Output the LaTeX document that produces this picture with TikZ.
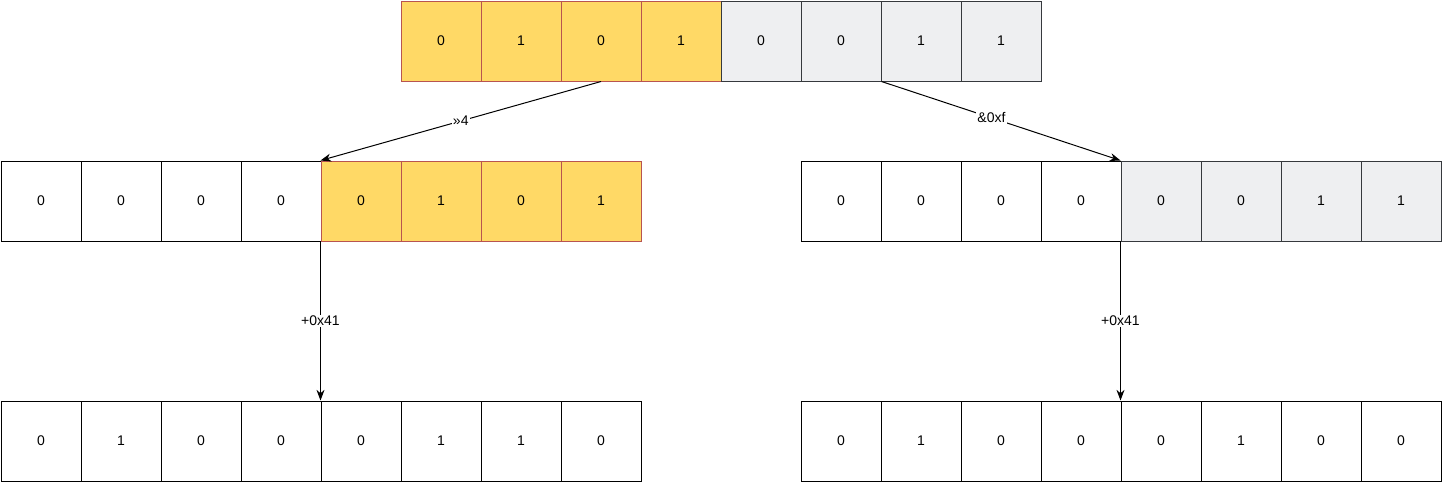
\documentclass[tikz,border=0pt]{standalone}
\usepackage{fontspec}
\setmainfont{Liberation Sans}
\definecolor{yfill}{HTML}{FFD966}
\definecolor{ydraw}{HTML}{B85450}
\definecolor{gfill}{HTML}{EEEFF1}
\definecolor{gdraw}{HTML}{36393D}
\usetikzlibrary{arrows.meta}
\begin{document}
\begin{tikzpicture}[x=0.75pt,y=-0.75pt,
 cell/.style={draw=black,fill=white,minimum width=60pt,minimum height=60pt,inner sep=0pt,font=\fontsize{10.5pt}{12pt}\selectfont,line width=0.75pt},
 ycell/.style={cell,fill=yfill,draw=ydraw},
 gcell/.style={cell,fill=gfill,draw=gdraw},
 arr/.style={-{Stealth[length=8pt,width=6pt]},line width=0.75pt},
 lbl/.style={fill=white,inner sep=1pt,font=\fontsize{10.5pt}{12pt}\selectfont}]
\useasboundingbox (0,0) rectangle (1442,482);
% top row
\foreach \v [count=\i] in {0,1,0,1}{\node[ycell] (t\i) at (401+80*\i-40,41) {\v};}
\foreach \v [count=\i from 5] in {0,0,1,1}{\node[gcell] (t\i) at (401+80*\i-40,41) {\v};}
% middle left
\foreach \v [count=\i] in {0,0,0,0}{\node[cell] (ml\i) at (1+80*\i-40,201) {\v};}
\foreach \v [count=\i from 5] in {0,1,0,1}{\node[ycell] (ml\i) at (1+80*\i-40,201) {\v};}
% middle right
\foreach \v [count=\i] in {0,0,0,0}{\node[cell] (mr\i) at (801+80*\i-40,201) {\v};}
\foreach \v [count=\i from 5] in {0,0,1,1}{\node[gcell] (mr\i) at (801+80*\i-40,201) {\v};}
% bottom
\foreach \v [count=\i] in {0,1,0,0,0,1,1,0}{\node[cell] (bl\i) at (1+80*\i-40,441) {\v};}
\foreach \v [count=\i] in {0,1,0,0,0,1,0,0}{\node[cell] (br\i) at (801+80*\i-40,441) {\v};}
\draw[arr] (t3.south) -- node[lbl,pos=0.5]{>>4} (ml5.north west);
\draw[arr] (t6.south east) -- node[lbl,pos=0.46]{\&0xf} (mr5.north west);
\draw[arr] (ml5.south west) -- node[lbl]{+0x41} (bl5.north west);
\draw[arr] (mr5.south west) -- node[lbl]{+0x41} (br5.north west);
\end{tikzpicture}
\end{document}
